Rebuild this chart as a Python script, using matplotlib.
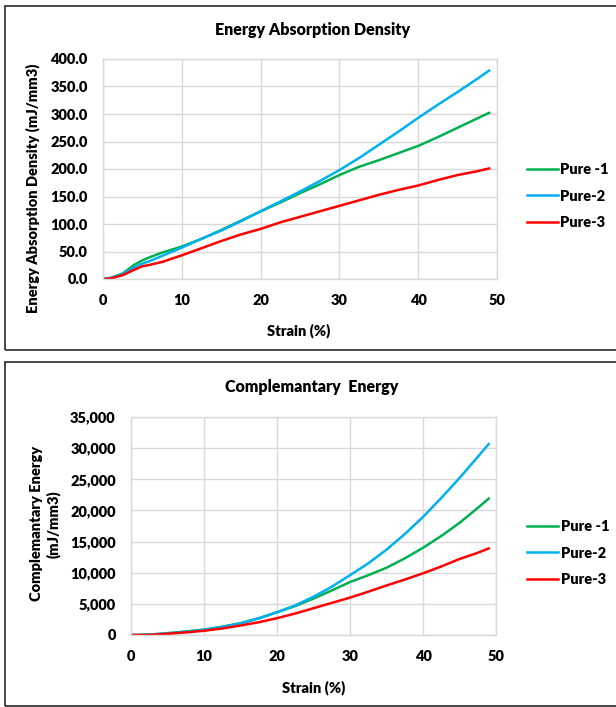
import matplotlib
matplotlib.use("Agg")
import matplotlib.pyplot as plt
from matplotlib.patches import Rectangle
from matplotlib.ticker import FuncFormatter, MultipleLocator

plt.rcParams['font.family'] = ['Lato', 'DejaVu Sans']
WT = 'heavy'
plt.rcParams['font.weight'] = WT

# strain points (%)
strain = [0, 1, 2.5, 4, 5, 6, 7.5, 10, 12.5, 15, 17.5, 20, 22.5, 25, 27.5, 30,
          32.5, 35, 37.5, 40, 42.5, 45, 47.5, 49]

# energy absorption density (mJ/mm3)
ead_pure1 = [0, 2, 10, 26, 34, 40, 48, 59, 73, 89, 106, 123, 139, 156, 172, 189,
             204, 216, 229, 242, 258, 275, 292, 302]
ead_pure2 = [0, 2, 9, 21, 28, 33, 42, 57, 73, 88, 105, 123, 141, 159, 178, 198,
             220, 244, 268, 293, 317, 340, 364, 379]
ead_pure3 = [0, 1, 7, 17, 23, 26, 31, 43, 56, 69, 81, 91, 103, 113, 123, 133,
             143, 153, 162, 170, 180, 189, 196, 201]

# complementary energy (mJ/mm3)
ce_pure1 = [0, 0, 60, 200, 300, 400, 560, 850, 1330, 1900, 2700, 3650, 4650, 5850,
            7150, 8500, 9600, 10800, 12300, 14000, 15900, 18000, 20400, 21900]
ce_pure2 = [0, 0, 50, 170, 260, 360, 520, 850, 1300, 1850, 2650, 3650, 4750, 6150,
            7750, 9600, 11500, 13700, 16200, 18950, 22000, 25200, 28600, 30650]
ce_pure3 = [0, 0, 20, 120, 200, 280, 420, 680, 1050, 1520, 2050, 2700, 3450, 4300,
            5150, 6000, 6950, 7950, 8900, 9900, 11000, 12200, 13200, 13900]

labels = ['Pure -1', 'Pure-2', 'Pure-3']
colors = ['#00b050', '#00b0f0', '#ff0000']

W, H = 616, 707
fig = plt.figure(figsize=(W / 100, H / 100), dpi=100)

# chart frames
for y0, y1 in [(6, 350), (362, 706)]:
    fig.patches.append(Rectangle((5 / W, 1 - y1 / H), (W + 10) / W, (y1 - y0) / H,
                                 transform=fig.transFigure, fill=False,
                                 edgecolor='#262626', linewidth=1.2))


def style_axes(ax):
    ax.set_xlim(0, 50)
    ax.xaxis.set_major_locator(MultipleLocator(10))
    ax.grid(True, color='#d9d9d9', linewidth=1)
    ax.set_axisbelow(True)
    for s in ax.spines.values():
        s.set_color('#d9d9d9')
        s.set_linewidth(1)
    ax.tick_params(length=0, labelsize=10.5, pad=11)
    for t in ax.get_xticklabels() + ax.get_yticklabels():
        t.set_fontweight(WT)


# top chart
ax1 = fig.add_axes([103 / W, 1 - 279 / H, 394 / W, 220 / H])
for ys, lab, c in zip([ead_pure1, ead_pure2, ead_pure3], labels, colors):
    ax1.plot(strain, ys, color=c, linewidth=1.8, label=lab)
ax1.set_ylim(0, 400)
ax1.yaxis.set_major_locator(MultipleLocator(50))
ax1.yaxis.set_major_formatter(FuncFormatter(lambda v, p: f'{v:.1f}'))
style_axes(ax1)
ax1.set_xlabel('Strain (%)', fontsize=10.5, fontweight=WT)
ax1.xaxis.set_label_coords(0.497, -0.20)
ax1.set_ylabel('Energy Absorption Density (mJ/mm3)', fontsize=10.5, fontweight=WT)
ax1.yaxis.set_label_coords(-0.16, 0.41)
ax1.legend(loc='center left', bbox_to_anchor=(1.076, 0.377), frameon=False,
           handlelength=2.1, handletextpad=0.2, labelspacing=0.95,
           borderpad=0, borderaxespad=0, prop={'size': 10.5, 'weight': WT})
fig.text(313 / W, 1 - 30 / H, 'Energy Absorption Density', ha='center', va='center',
         fontsize=11.5, fontweight=WT)

# bottom chart
ax2 = fig.add_axes([131 / W, 1 - 635 / H, 365 / W, 218 / H])
for ys, lab, c in zip([ce_pure1, ce_pure2, ce_pure3], labels, colors):
    ax2.plot(strain, ys, color=c, linewidth=1.8, label=lab)
ax2.set_ylim(0, 35000)
ax2.yaxis.set_major_locator(MultipleLocator(5000))
ax2.yaxis.set_major_formatter(FuncFormatter(lambda v, p: f'{v:,.0f}'))
style_axes(ax2)
ax2.set_xlabel('Strain (%)', fontsize=10.5, fontweight=WT)
ax2.xaxis.set_label_coords(0.50, -0.206)
ax2.set_ylabel('Complemantary Energy\n(mJ/mm3)', fontsize=10.5, fontweight=WT,
               linespacing=1.3)
ax2.yaxis.set_label_coords(-0.192, 0.51)
ax2.legend(loc='center left', bbox_to_anchor=(1.085, 0.376), frameon=False,
           handlelength=2.1, handletextpad=0.2, labelspacing=0.95,
           borderpad=0, borderaxespad=0, prop={'size': 10.5, 'weight': WT})
fig.text(312 / W, 1 - 387 / H, 'Complemantary  Energy', ha='center', va='center',
         fontsize=11.5, fontweight=WT)

fig.savefig('out.png', dpi=100)
